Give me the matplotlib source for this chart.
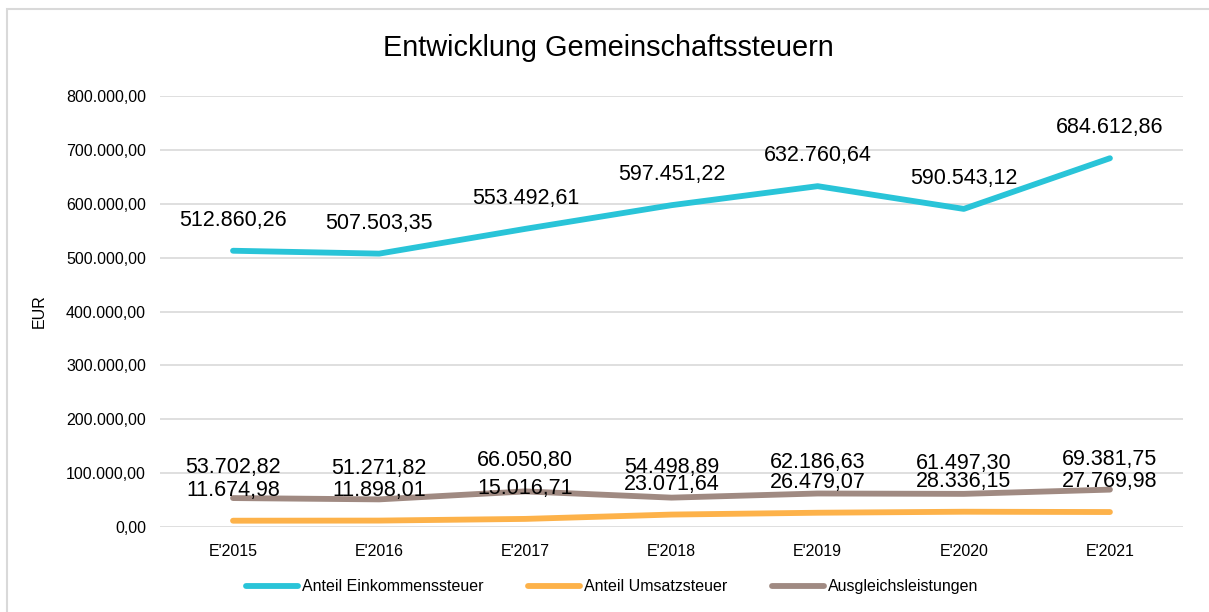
import matplotlib.pyplot as plt
from matplotlib.ticker import FuncFormatter

plt.rcParams['font.family'] = ['Liberation Sans', 'DejaVu Sans']

jahre = ["E'2015", "E'2016", "E'2017", "E'2018", "E'2019", "E'2020", "E'2021"]
einkommen = [512860.26, 507503.35, 553492.61, 597451.22, 632760.64, 590543.12, 684612.86]
umsatz = [11674.98, 11898.01, 15016.71, 23071.64, 26479.07, 28336.15, 27769.98]
ausgleich = [53702.82, 51271.82, 66050.80, 54498.89, 62186.63, 61497.30, 69381.75]

namen = ['Anteil Einkommenssteuer', 'Anteil Umsatzsteuer', 'Ausgleichsleistungen']
farben = ['#29C4D8', '#FDB24A', '#A08A82']


def de_format(v, pos=None):
    # 1234567.5 -> 1.234.567,50
    s = f'{v:,.2f}'
    return s.replace(',', 'X').replace('.', ',').replace('X', '.')


fig = plt.figure(figsize=(12.09, 6.12), dpi=100)
ax = fig.add_axes([0.1323, 0.1389, 0.8462, 0.7041])

x = list(range(len(jahre)))
for werte, name, farbe in zip([einkommen, umsatz, ausgleich], namen, farben):
    ax.plot(x, werte, color=farbe, lw=4.2, solid_capstyle='round', label=name, zorder=3)
    for xi, v in zip(x, werte):
        ax.annotate(de_format(v), (xi, v), xytext=(0, 22), textcoords='offset points',
                    ha='center', va='center', fontsize=15.5, color='black', zorder=4)

ax.set_xlim(-0.5, 6.5)
ax.set_ylim(0, 800000)
ax.set_yticks(range(0, 800001, 100000))
ax.yaxis.set_major_formatter(FuncFormatter(de_format))
ax.set_xticks(x)
ax.set_xticklabels(jahre)
ax.tick_params(axis='both', length=0, labelsize=11.5)
ax.tick_params(axis='y', pad=10)
ax.tick_params(axis='x', pad=12)
ax.grid(axis='y', color='#D9D9D9', lw=1.2)
ax.set_axisbelow(True)
for s in ax.spines.values():
    s.set_visible(False)
ax.set_ylabel('EUR', fontsize=11.5, labelpad=14)

fig.suptitle('Entwicklung Gemeinschaftssteuern', fontsize=20.8, x=0.503, y=0.922, va='center')

fig.legend(loc='center', bbox_to_anchor=(0.506, 0.041), ncol=3, frameon=False,
           fontsize=11.5, handlelength=3.3, handletextpad=0.2, columnspacing=2.8)

# grauer Rahmen ums Diagramm
rahmen = plt.Rectangle((7 / 1209, -0.05), 1.1, 1 - 9 / 612 + 0.05, transform=fig.transFigure,
                       fill=False, edgecolor='#D9D9D9', lw=1.5)
fig.patches.append(rahmen)

fig.savefig('out.png', dpi=100)
